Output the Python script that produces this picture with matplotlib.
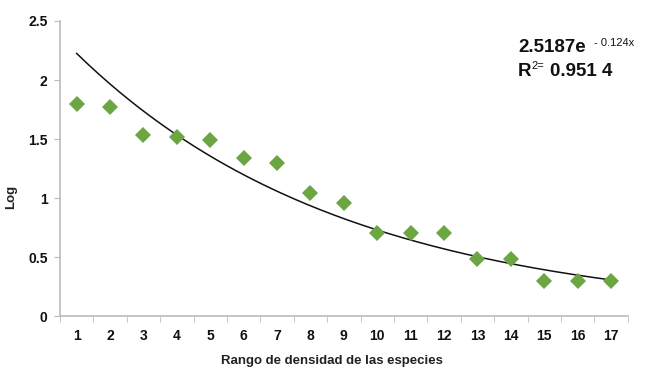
import numpy as np
import matplotlib
matplotlib.use("Agg")
import matplotlib.pyplot as plt

plt.rcParams['font.family'] = ['Liberation Sans', 'DejaVu Sans']

categories = list(range(1, 18))
log_values = [1.80, 1.77, 1.53, 1.52, 1.49, 1.34, 1.30, 1.04, 0.96,
              0.70, 0.70, 0.70, 0.48, 0.48, 0.30, 0.30, 0.30]
fit_a = 2.5187
fit_b = -0.124

fig = plt.figure(figsize=(6.48, 3.71), dpi=100)
ax = fig.add_axes([0.0926, 0.1482, 0.8761, 0.7952])

ax.plot(categories, log_values, linestyle='none', marker='D', markersize=8,
        color='#6BA642', markeredgewidth=0, zorder=3)

xs = np.linspace(categories[0], categories[-1], 200)
ax.plot(xs, fit_a * np.exp(fit_b * xs), color='#111111', linewidth=1.1, zorder=2)

ax.set_xlim(0.5, 17.5)
ax.set_ylim(0, 2.5)
ax.set_yticks([0, 0.5, 1, 1.5, 2, 2.5])
ax.set_yticklabels(['0', '0.5', '1', '1.5', '2', '2.5'])
ax.set_xticks(categories)
ax.set_xticklabels([str(c) for c in categories])
ax.set_xticks(np.arange(0.5, 17.6, 1), minor=True)
ax.tick_params(axis='x', which='major', length=0, pad=9)
ax.tick_params(axis='x', which='minor', length=4, color='#BBBBBB', direction='out')
ax.tick_params(axis='y', length=4, color='#BBBBBB', direction='out', pad=5)
for lbl in ax.get_xticklabels() + ax.get_yticklabels():
    lbl.set_fontweight('bold')
    lbl.set_fontsize(10)
    lbl.set_color('#111111')

for s in ['top', 'right']:
    ax.spines[s].set_visible(False)
for s in ['left', 'bottom']:
    ax.spines[s].set_color('#BBBBBB')
    ax.spines[s].set_linewidth(1.2)

ax.set_xlabel('Rango de densidad de las especies', fontsize=9.5, fontweight='bold',
              color='#222222')
ax.xaxis.set_label_coords((332 - 60) / 568, -(355 - 316) / 295)
ax.set_ylabel('Log', fontsize=9.5, fontweight='bold', color='#222222')
ax.yaxis.set_label_coords(-(60 - 17) / 568, (316 - 197) / 295)

fig.text(518/648, 1-47/371, '2.5187e', fontsize=13.5, fontweight='bold', va='center', ha='left', color='#111111')
fig.text(594/648, 1-43/371, '- 0.124x', fontsize=8, va='center', ha='left', color='#111111')
fig.text(518/648, 1-71/371, 'R', fontsize=13.5, fontweight='bold', va='center', ha='left', color='#111111')
fig.text(531/648, 1-66/371, '2=', fontsize=8, va='center', ha='left', color='#111111')
fig.text(550/648, 1-71/371, '0.951 4', fontsize=13.5, fontweight='bold', va='center', ha='left', color='#111111')

fig.savefig('out.png', dpi=100)
